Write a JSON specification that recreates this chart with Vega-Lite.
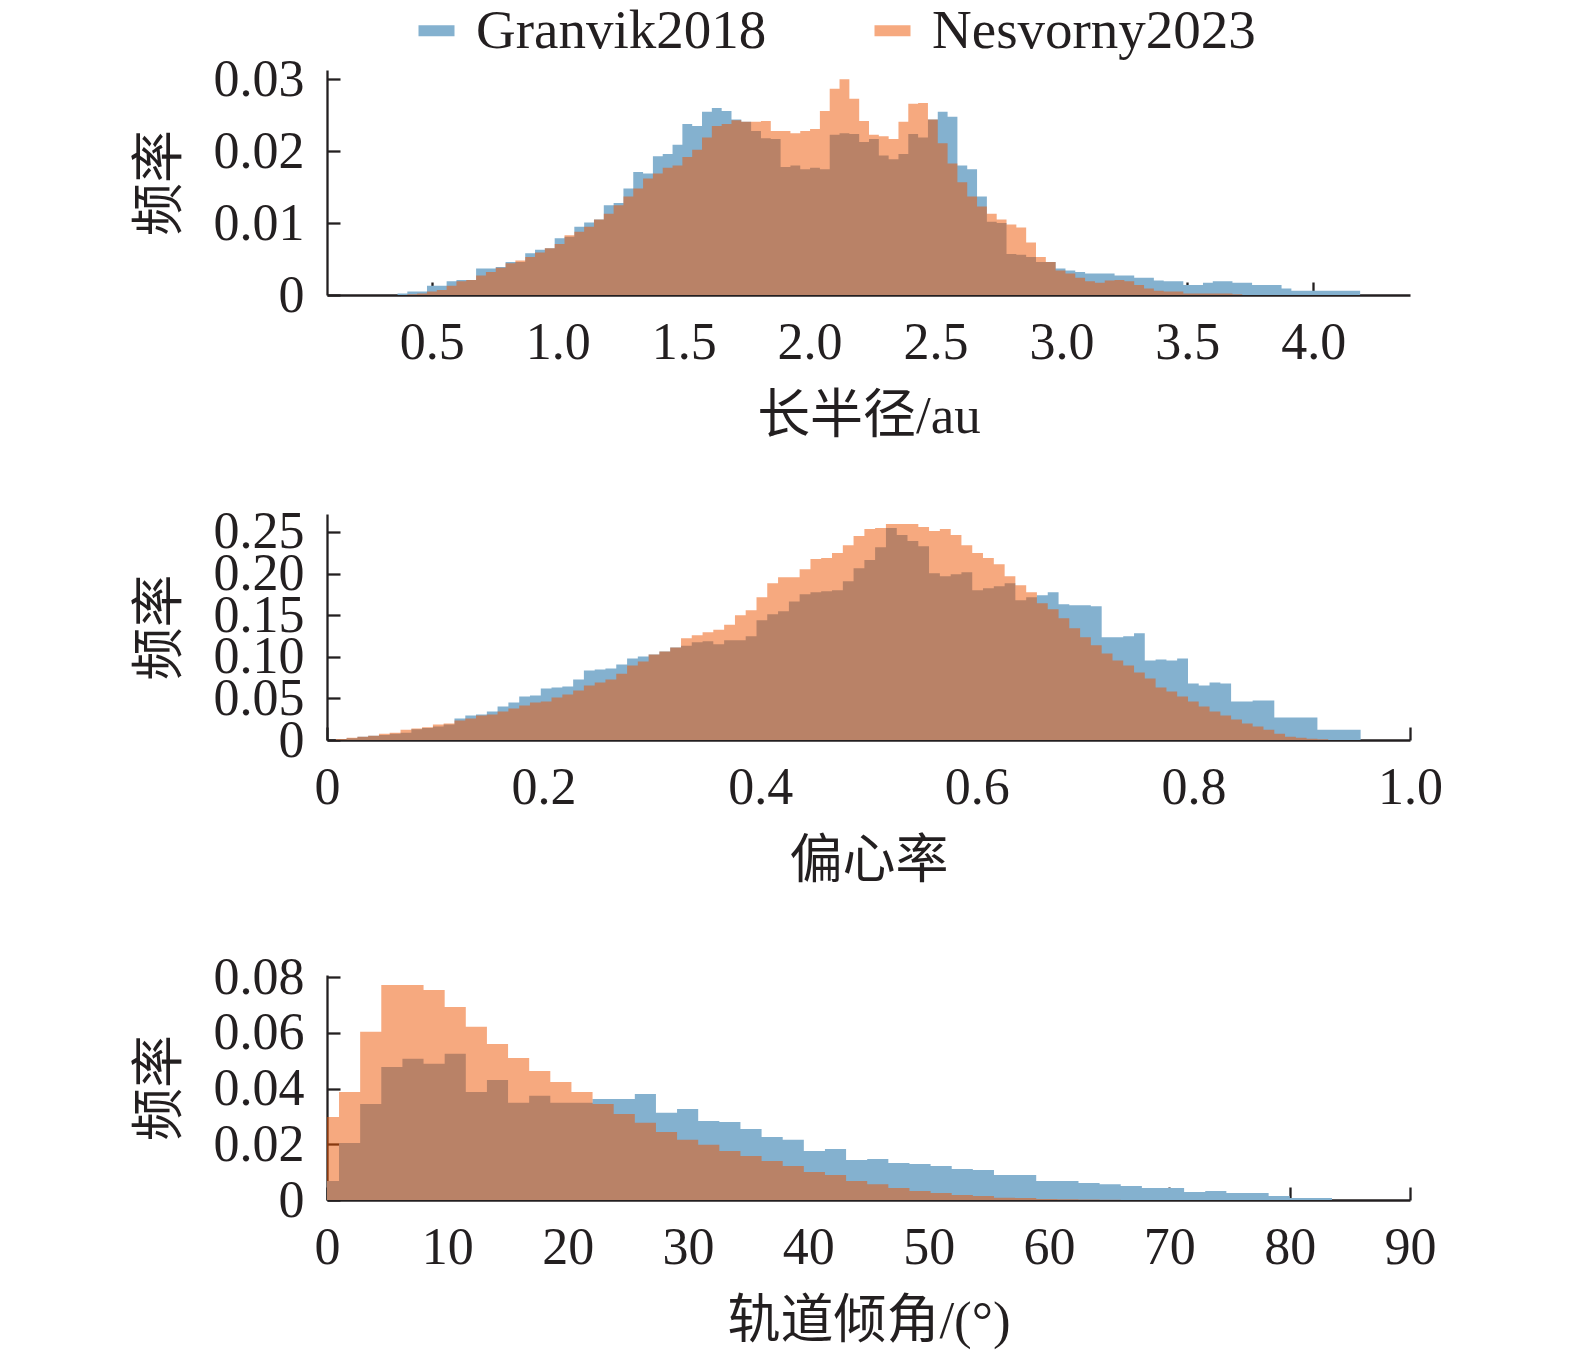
{
  "$schema": "https://vega.github.io/schema/vega-lite/v6.json",
  "background": "white",
  "padding": {"left": 134, "top": 3, "right": 5, "bottom": 5},
  "bounds": "flush",
  "spacing": 219,
  "config": {
    "font": "Liberation Serif",
    "view": {"stroke": null},
    "axis": {
      "grid": false,
      "domainColor": "#231f20",
      "domainWidth": 2.3,
      "tickColor": "#231f20",
      "tickWidth": 2.3,
      "tickSize": -13,
      "labelFont": "Liberation Serif",
      "labelFontSize": 52,
      "labelColor": "#231f20",
      "labelFlush": false,
      "labelOverlap": false,
      "labelBound": false,
      "titleFont": "Liberation Serif, Noto Sans CJK SC",
      "titleFontSize": 53,
      "titleFontWeight": "normal",
      "titleColor": "#231f20"
    },
    "axisX": {"labelPadding": 35, "titlePadding": 22},
    "axisY": {"labelPadding": 36, "titlePadding": 26}
  },
  "resolve": {"scale": {"color": "independent", "opacity": "independent"}},
  "datasets": {
    "p1": [
      {"s":"G","x":0.364,"f":0.0002},{"s":"G","x":0.403,"f":0.0005},{"s":"G","x":0.442,"f":0.0005},{"s":"G","x":0.481,"f":0.0013},
      {"s":"G","x":0.52,"f":0.0013},{"s":"G","x":0.559,"f":0.0019},{"s":"G","x":0.598,"f":0.0021},{"s":"G","x":0.637,"f":0.0021},
      {"s":"G","x":0.676,"f":0.0037},{"s":"G","x":0.715,"f":0.0037},{"s":"G","x":0.754,"f":0.0039},{"s":"G","x":0.793,"f":0.0046},
      {"s":"G","x":0.832,"f":0.0046},{"s":"G","x":0.871,"f":0.0058},{"s":"G","x":0.91,"f":0.0063},{"s":"G","x":0.949,"f":0.0065},
      {"s":"G","x":0.988,"f":0.0079},{"s":"G","x":1.027,"f":0.0081},{"s":"G","x":1.066,"f":0.0095},{"s":"G","x":1.105,"f":0.0101},
      {"s":"G","x":1.144,"f":0.0105},{"s":"G","x":1.183,"f":0.0125},{"s":"G","x":1.222,"f":0.0128},{"s":"G","x":1.261,"f":0.0148},
      {"s":"G","x":1.3,"f":0.0171},{"s":"G","x":1.339,"f":0.0169},{"s":"G","x":1.378,"f":0.0193},{"s":"G","x":1.417,"f":0.0196},
      {"s":"G","x":1.456,"f":0.0209},{"s":"G","x":1.495,"f":0.0238},{"s":"G","x":1.534,"f":0.0235},{"s":"G","x":1.573,"f":0.0255},
      {"s":"G","x":1.612,"f":0.026},{"s":"G","x":1.651,"f":0.0256},{"s":"G","x":1.69,"f":0.0244},{"s":"G","x":1.729,"f":0.0241},
      {"s":"G","x":1.768,"f":0.0228},{"s":"G","x":1.807,"f":0.0218},{"s":"G","x":1.846,"f":0.0217},{"s":"G","x":1.885,"f":0.0178},
      {"s":"G","x":1.924,"f":0.018},{"s":"G","x":1.963,"f":0.0175},{"s":"G","x":2.002,"f":0.0177},{"s":"G","x":2.041,"f":0.0175},
      {"s":"G","x":2.08,"f":0.0223},{"s":"G","x":2.119,"f":0.0225},{"s":"G","x":2.158,"f":0.0224},{"s":"G","x":2.197,"f":0.0213},
      {"s":"G","x":2.236,"f":0.0217},{"s":"G","x":2.275,"f":0.0194},{"s":"G","x":2.314,"f":0.0189},{"s":"G","x":2.353,"f":0.0196},
      {"s":"G","x":2.392,"f":0.0224},{"s":"G","x":2.431,"f":0.0219},{"s":"G","x":2.47,"f":0.0244},{"s":"G","x":2.509,"f":0.0255},
      {"s":"G","x":2.548,"f":0.0248},{"s":"G","x":2.587,"f":0.018},{"s":"G","x":2.626,"f":0.0175},{"s":"G","x":2.665,"f":0.0137},
      {"s":"G","x":2.704,"f":0.0102},{"s":"G","x":2.743,"f":0.01},{"s":"G","x":2.782,"f":0.0057},{"s":"G","x":2.821,"f":0.0056},
      {"s":"G","x":2.86,"f":0.0053},{"s":"G","x":2.899,"f":0.0046},{"s":"G","x":2.938,"f":0.0046},{"s":"G","x":2.977,"f":0.0037},
      {"s":"G","x":3.016,"f":0.0034},{"s":"G","x":3.055,"f":0.0032},{"s":"G","x":3.094,"f":0.003},{"s":"G","x":3.133,"f":0.003},
      {"s":"G","x":3.172,"f":0.003},{"s":"G","x":3.211,"f":0.0027},{"s":"G","x":3.25,"f":0.0027},{"s":"G","x":3.289,"f":0.0024},
      {"s":"G","x":3.328,"f":0.0024},{"s":"G","x":3.367,"f":0.002},{"s":"G","x":3.406,"f":0.0019},{"s":"G","x":3.445,"f":0.0019},
      {"s":"G","x":3.484,"f":0.0014},{"s":"G","x":3.523,"f":0.0014},{"s":"G","x":3.562,"f":0.0017},{"s":"G","x":3.601,"f":0.0019},
      {"s":"G","x":3.64,"f":0.0019},{"s":"G","x":3.679,"f":0.0017},{"s":"G","x":3.718,"f":0.0017},{"s":"G","x":3.757,"f":0.0014},
      {"s":"G","x":3.796,"f":0.0014},{"s":"G","x":3.835,"f":0.0014},{"s":"G","x":3.874,"f":0.0009},{"s":"G","x":3.913,"f":0.0006},
      {"s":"G","x":3.952,"f":0.0006},{"s":"G","x":3.991,"f":0.0006},{"s":"G","x":4.03,"f":0.0006},{"s":"G","x":4.069,"f":0.0006},
      {"s":"G","x":4.108,"f":0.0006},{"s":"G","x":4.147,"f":0.0006},{"s":"G","x":4.186,"f":0.0006},
      {"s":"N","x":0.403,"f":0.0001},{"s":"N","x":0.442,"f":0.0002},{"s":"N","x":0.481,"f":0.0005},{"s":"N","x":0.52,"f":0.0007},
      {"s":"N","x":0.559,"f":0.0013},{"s":"N","x":0.598,"f":0.0019},{"s":"N","x":0.637,"f":0.0021},{"s":"N","x":0.676,"f":0.0027},
      {"s":"N","x":0.715,"f":0.0032},{"s":"N","x":0.754,"f":0.0038},{"s":"N","x":0.793,"f":0.0044},{"s":"N","x":0.832,"f":0.0048},
      {"s":"N","x":0.871,"f":0.0053},{"s":"N","x":0.91,"f":0.0059},{"s":"N","x":0.949,"f":0.0065},{"s":"N","x":0.988,"f":0.0071},
      {"s":"N","x":1.027,"f":0.0083},{"s":"N","x":1.066,"f":0.0088},{"s":"N","x":1.105,"f":0.0095},{"s":"N","x":1.144,"f":0.0105},
      {"s":"N","x":1.183,"f":0.0113},{"s":"N","x":1.222,"f":0.0125},{"s":"N","x":1.261,"f":0.0137},{"s":"N","x":1.3,"f":0.0148},
      {"s":"N","x":1.339,"f":0.0162},{"s":"N","x":1.378,"f":0.0169},{"s":"N","x":1.417,"f":0.0177},{"s":"N","x":1.456,"f":0.018},
      {"s":"N","x":1.495,"f":0.0192},{"s":"N","x":1.534,"f":0.0202},{"s":"N","x":1.573,"f":0.0219},{"s":"N","x":1.612,"f":0.0235},
      {"s":"N","x":1.651,"f":0.0238},{"s":"N","x":1.69,"f":0.0243},{"s":"N","x":1.729,"f":0.0241},{"s":"N","x":1.768,"f":0.0241},
      {"s":"N","x":1.807,"f":0.0242},{"s":"N","x":1.846,"f":0.0228},{"s":"N","x":1.885,"f":0.0228},{"s":"N","x":1.924,"f":0.0225},
      {"s":"N","x":1.963,"f":0.0228},{"s":"N","x":2.002,"f":0.0231},{"s":"N","x":2.041,"f":0.0256},{"s":"N","x":2.08,"f":0.0287},
      {"s":"N","x":2.119,"f":0.03},{"s":"N","x":2.158,"f":0.0273},{"s":"N","x":2.197,"f":0.0242},{"s":"N","x":2.236,"f":0.0223},
      {"s":"N","x":2.275,"f":0.0221},{"s":"N","x":2.314,"f":0.0217},{"s":"N","x":2.353,"f":0.0241},{"s":"N","x":2.392,"f":0.0266},
      {"s":"N","x":2.431,"f":0.0267},{"s":"N","x":2.47,"f":0.0244},{"s":"N","x":2.509,"f":0.0211},{"s":"N","x":2.548,"f":0.0183},
      {"s":"N","x":2.587,"f":0.0157},{"s":"N","x":2.626,"f":0.0137},{"s":"N","x":2.665,"f":0.0123},{"s":"N","x":2.704,"f":0.0113},
      {"s":"N","x":2.743,"f":0.0105},{"s":"N","x":2.782,"f":0.0098},{"s":"N","x":2.821,"f":0.0094},{"s":"N","x":2.86,"f":0.0073},
      {"s":"N","x":2.899,"f":0.0053},{"s":"N","x":2.938,"f":0.0046},{"s":"N","x":2.977,"f":0.0034},{"s":"N","x":3.016,"f":0.003},
      {"s":"N","x":3.055,"f":0.0024},{"s":"N","x":3.094,"f":0.0019},{"s":"N","x":3.133,"f":0.0017},{"s":"N","x":3.172,"f":0.002},
      {"s":"N","x":3.211,"f":0.0021},{"s":"N","x":3.25,"f":0.0019},{"s":"N","x":3.289,"f":0.0014},{"s":"N","x":3.328,"f":0.0009},
      {"s":"N","x":3.367,"f":0.0006},{"s":"N","x":3.406,"f":0.0005},{"s":"N","x":3.445,"f":0.0005},{"s":"N","x":3.484,"f":0.0002},
      {"s":"N","x":3.523,"f":0.0002},{"s":"N","x":3.562,"f":0.0002},{"s":"N","x":3.601,"f":0.0002},{"s":"N","x":3.64,"f":0.0002},
      {"s":"N","x":3.679,"f":0.0001},{"s":"N","x":3.718,"f":0.0001}
    ],
    "p2": [
      {"s":"G","x":0.0082,"f":0.001},
      {"s":"G","x":0.0181,"f":0.002},{"s":"G","x":0.0281,"f":0.004},{"s":"G","x":0.038,"f":0.0052},{"s":"G","x":0.048,"f":0.006},
      {"s":"G","x":0.0579,"f":0.0076},{"s":"G","x":0.0679,"f":0.0088},{"s":"G","x":0.0779,"f":0.0128},{"s":"G","x":0.0878,"f":0.0145},
      {"s":"G","x":0.0978,"f":0.0161},{"s":"G","x":0.1077,"f":0.0185},{"s":"G","x":0.1177,"f":0.0257},{"s":"G","x":0.1277,"f":0.0293},
      {"s":"G","x":0.1376,"f":0.0305},{"s":"G","x":0.1476,"f":0.0341},{"s":"G","x":0.1575,"f":0.0402},{"s":"G","x":0.1675,"f":0.045},
      {"s":"G","x":0.1775,"f":0.0522},{"s":"G","x":0.1874,"f":0.0534},{"s":"G","x":0.1974,"f":0.0618},{"s":"G","x":0.2073,"f":0.063},
      {"s":"G","x":0.2173,"f":0.0643},{"s":"G","x":0.2273,"f":0.0727},{"s":"G","x":0.2372,"f":0.0835},{"s":"G","x":0.2472,"f":0.0847},
      {"s":"G","x":0.2571,"f":0.0859},{"s":"G","x":0.2671,"f":0.0908},{"s":"G","x":0.2771,"f":0.098},{"s":"G","x":0.287,"f":0.1004},
      {"s":"G","x":0.297,"f":0.1028},{"s":"G","x":0.3069,"f":0.1064},{"s":"G","x":0.3169,"f":0.1112},{"s":"G","x":0.3269,"f":0.1133},
      {"s":"G","x":0.3368,"f":0.1173},{"s":"G","x":0.3468,"f":0.1185},{"s":"G","x":0.3567,"f":0.1149},{"s":"G","x":0.3667,"f":0.1197},
      {"s":"G","x":0.3767,"f":0.1197},{"s":"G","x":0.3866,"f":0.1245},{"s":"G","x":0.3966,"f":0.1438},{"s":"G","x":0.4065,"f":0.151},
      {"s":"G","x":0.4165,"f":0.1546},{"s":"G","x":0.4265,"f":0.1665},{"s":"G","x":0.4364,"f":0.1751},{"s":"G","x":0.4464,"f":0.1775},
      {"s":"G","x":0.4563,"f":0.1787},{"s":"G","x":0.4663,"f":0.1799},{"s":"G","x":0.4763,"f":0.1908},{"s":"G","x":0.4862,"f":0.2064},
      {"s":"G","x":0.4962,"f":0.2161},{"s":"G","x":0.5061,"f":0.2317},{"s":"G","x":0.5161,"f":0.2546},{"s":"G","x":0.5261,"f":0.2462},
      {"s":"G","x":0.536,"f":0.239},{"s":"G","x":0.546,"f":0.2329},{"s":"G","x":0.5559,"f":0.2004},{"s":"G","x":0.5659,"f":0.1968},
      {"s":"G","x":0.5759,"f":0.1992},{"s":"G","x":0.5858,"f":0.2016},{"s":"G","x":0.5958,"f":0.1799},{"s":"G","x":0.6057,"f":0.1823},
      {"s":"G","x":0.6157,"f":0.1847},{"s":"G","x":0.6257,"f":0.1884},{"s":"G","x":0.6356,"f":0.1679},{"s":"G","x":0.6456,"f":0.1715},
      {"s":"G","x":0.6555,"f":0.1739},{"s":"G","x":0.6655,"f":0.1775},{"s":"G","x":0.6755,"f":0.1631},{"s":"G","x":0.6854,"f":0.1618},
      {"s":"G","x":0.6954,"f":0.1618},{"s":"G","x":0.7053,"f":0.1606},{"s":"G","x":0.7153,"f":0.1233},{"s":"G","x":0.7253,"f":0.1233},
      {"s":"G","x":0.7352,"f":0.1245},{"s":"G","x":0.7452,"f":0.1281},{"s":"G","x":0.7551,"f":0.0956},{"s":"G","x":0.7651,"f":0.0968},
      {"s":"G","x":0.7751,"f":0.0956},{"s":"G","x":0.785,"f":0.098},{"s":"G","x":0.795,"f":0.0679},{"s":"G","x":0.8049,"f":0.0655},
      {"s":"G","x":0.8149,"f":0.0691},{"s":"G","x":0.8249,"f":0.0679},{"s":"G","x":0.8348,"f":0.0462},{"s":"G","x":0.8448,"f":0.0462},
      {"s":"G","x":0.8547,"f":0.0474},{"s":"G","x":0.8647,"f":0.0474},{"s":"G","x":0.8747,"f":0.0269},{"s":"G","x":0.8846,"f":0.0269},
      {"s":"G","x":0.8946,"f":0.0269},{"s":"G","x":0.9045,"f":0.0269},{"s":"G","x":0.9145,"f":0.0124},{"s":"G","x":0.9245,"f":0.0124},
      {"s":"G","x":0.9344,"f":0.0124},{"s":"G","x":0.9444,"f":0.0124},{"s":"G","x":0.9544,"f":0.0124},
      {"s":"N","x":0.0082,"f":0.0012},
      {"s":"N","x":0.0181,"f":0.0028},{"s":"N","x":0.0281,"f":0.004},{"s":"N","x":0.038,"f":0.0052},{"s":"N","x":0.048,"f":0.0076},
      {"s":"N","x":0.0579,"f":0.0088},{"s":"N","x":0.0679,"f":0.0124},{"s":"N","x":0.0779,"f":0.0137},{"s":"N","x":0.0878,"f":0.0153},
      {"s":"N","x":0.0978,"f":0.0185},{"s":"N","x":0.1077,"f":0.0197},{"s":"N","x":0.1177,"f":0.0233},{"s":"N","x":0.1277,"f":0.0257},
      {"s":"N","x":0.1376,"f":0.0293},{"s":"N","x":0.1476,"f":0.0305},{"s":"N","x":0.1575,"f":0.0341},{"s":"N","x":0.1675,"f":0.0378},
      {"s":"N","x":0.1775,"f":0.0414},{"s":"N","x":0.1874,"f":0.045},{"s":"N","x":0.1974,"f":0.0462},{"s":"N","x":0.2073,"f":0.051},
      {"s":"N","x":0.2173,"f":0.0546},{"s":"N","x":0.2273,"f":0.0594},{"s":"N","x":0.2372,"f":0.0655},{"s":"N","x":0.2472,"f":0.0691},
      {"s":"N","x":0.2571,"f":0.0727},{"s":"N","x":0.2671,"f":0.0795},{"s":"N","x":0.2771,"f":0.0896},{"s":"N","x":0.287,"f":0.0944},
      {"s":"N","x":0.297,"f":0.1028},{"s":"N","x":0.3069,"f":0.1064},{"s":"N","x":0.3169,"f":0.1112},{"s":"N","x":0.3269,"f":0.1221},
      {"s":"N","x":0.3368,"f":0.1257},{"s":"N","x":0.3468,"f":0.1293},{"s":"N","x":0.3567,"f":0.1325},{"s":"N","x":0.3667,"f":0.1385},
      {"s":"N","x":0.3767,"f":0.1498},{"s":"N","x":0.3866,"f":0.1558},{"s":"N","x":0.3966,"f":0.1715},{"s":"N","x":0.4065,"f":0.1884},
      {"s":"N","x":0.4165,"f":0.1956},{"s":"N","x":0.4265,"f":0.1956},{"s":"N","x":0.4364,"f":0.2052},{"s":"N","x":0.4464,"f":0.2173},
      {"s":"N","x":0.4563,"f":0.2185},{"s":"N","x":0.4663,"f":0.2245},{"s":"N","x":0.4763,"f":0.2341},{"s":"N","x":0.4862,"f":0.245},
      {"s":"N","x":0.4962,"f":0.2534},{"s":"N","x":0.5061,"f":0.2546},{"s":"N","x":0.5161,"f":0.2594},{"s":"N","x":0.5261,"f":0.2594},
      {"s":"N","x":0.536,"f":0.2594},{"s":"N","x":0.546,"f":0.2558},{"s":"N","x":0.5559,"f":0.251},{"s":"N","x":0.5659,"f":0.2534},
      {"s":"N","x":0.5759,"f":0.2462},{"s":"N","x":0.5858,"f":0.2341},{"s":"N","x":0.5958,"f":0.2245},{"s":"N","x":0.6057,"f":0.2185},
      {"s":"N","x":0.6157,"f":0.2112},{"s":"N","x":0.6257,"f":0.1968},{"s":"N","x":0.6356,"f":0.1859},{"s":"N","x":0.6456,"f":0.1775},
      {"s":"N","x":0.6555,"f":0.1643},{"s":"N","x":0.6655,"f":0.157},{"s":"N","x":0.6755,"f":0.1462},{"s":"N","x":0.6854,"f":0.1341},
      {"s":"N","x":0.6954,"f":0.1233},{"s":"N","x":0.7053,"f":0.1137},{"s":"N","x":0.7153,"f":0.104},{"s":"N","x":0.7253,"f":0.0956},
      {"s":"N","x":0.7352,"f":0.0896},{"s":"N","x":0.7452,"f":0.0811},{"s":"N","x":0.7551,"f":0.0739},{"s":"N","x":0.7651,"f":0.0631},
      {"s":"N","x":0.7751,"f":0.0582},{"s":"N","x":0.785,"f":0.0522},{"s":"N","x":0.795,"f":0.0462},{"s":"N","x":0.8049,"f":0.0402},
      {"s":"N","x":0.8149,"f":0.0341},{"s":"N","x":0.8249,"f":0.0293},{"s":"N","x":0.8348,"f":0.0245},{"s":"N","x":0.8448,"f":0.0197},
      {"s":"N","x":0.8547,"f":0.0161},{"s":"N","x":0.8647,"f":0.0124},{"s":"N","x":0.8747,"f":0.0076},{"s":"N","x":0.8846,"f":0.004},
      {"s":"N","x":0.8946,"f":0.0028},{"s":"N","x":0.9045,"f":0.0016},{"s":"N","x":0.9145,"f":0.0008},{"s":"N","x":0.9245,"f":0.0008}
    ],
    "p3": [
      {"s":"G","x":-0.756,"f":0.0068},{"s":"G","x":1.0,"f":0.0205},{"s":"G","x":2.756,"f":0.0345},{"s":"G","x":4.511,"f":0.0478},
      {"s":"G","x":6.267,"f":0.0507},{"s":"G","x":8.023,"f":0.0489},{"s":"G","x":9.779,"f":0.0525},{"s":"G","x":11.534,"f":0.0388},
      {"s":"G","x":13.29,"f":0.0431},{"s":"G","x":15.046,"f":0.0349},{"s":"G","x":16.801,"f":0.0374},{"s":"G","x":18.557,"f":0.0349},
      {"s":"G","x":20.313,"f":0.0349},{"s":"G","x":22.068,"f":0.0363},{"s":"G","x":23.824,"f":0.0363},{"s":"G","x":25.58,"f":0.0381},
      {"s":"G","x":27.336,"f":0.0313},{"s":"G","x":29.091,"f":0.0327},{"s":"G","x":30.847,"f":0.0284},{"s":"G","x":32.603,"f":0.028},
      {"s":"G","x":34.358,"f":0.0255},{"s":"G","x":36.114,"f":0.0226},{"s":"G","x":37.87,"f":0.0216},{"s":"G","x":39.625,"f":0.0176},
      {"s":"G","x":41.381,"f":0.0183},{"s":"G","x":43.137,"f":0.0144},{"s":"G","x":44.893,"f":0.0147},{"s":"G","x":46.648,"f":0.0133},
      {"s":"G","x":48.404,"f":0.0129},{"s":"G","x":50.16,"f":0.0122},{"s":"G","x":51.915,"f":0.0111},{"s":"G","x":53.671,"f":0.0108},
      {"s":"G","x":55.427,"f":0.009},{"s":"G","x":57.182,"f":0.009},{"s":"G","x":58.938,"f":0.0068},{"s":"G","x":60.694,"f":0.0068},
      {"s":"G","x":62.45,"f":0.0061},{"s":"G","x":64.205,"f":0.0057},{"s":"G","x":65.961,"f":0.005},{"s":"G","x":67.717,"f":0.0043},
      {"s":"G","x":69.472,"f":0.0043},{"s":"G","x":71.228,"f":0.0029},{"s":"G","x":72.984,"f":0.0032},{"s":"G","x":74.739,"f":0.0025},
      {"s":"G","x":76.495,"f":0.0025},{"s":"G","x":78.251,"f":0.0014},{"s":"G","x":80.007,"f":0.0007},{"s":"G","x":81.762,"f":0.0007},
      {"s":"G","x":83.518,"f":0.0007},
      {"s":"N","x":-0.756,"f":0.0298},{"s":"N","x":1.0,"f":0.0388},{"s":"N","x":2.756,"f":0.0604},{"s":"N","x":4.511,"f":0.0772},
      {"s":"N","x":6.267,"f":0.0772},{"s":"N","x":8.023,"f":0.0754},{"s":"N","x":9.779,"f":0.0693},{"s":"N","x":11.534,"f":0.0622},
      {"s":"N","x":13.29,"f":0.056},{"s":"N","x":15.046,"f":0.051},{"s":"N","x":16.801,"f":0.0463},{"s":"N","x":18.557,"f":0.0424},
      {"s":"N","x":20.313,"f":0.0388},{"s":"N","x":22.068,"f":0.0345},{"s":"N","x":23.824,"f":0.0309},{"s":"N","x":25.58,"f":0.0277},
      {"s":"N","x":27.336,"f":0.0244},{"s":"N","x":29.091,"f":0.0216},{"s":"N","x":30.847,"f":0.0198},{"s":"N","x":32.603,"f":0.0176},
      {"s":"N","x":34.358,"f":0.0158},{"s":"N","x":36.114,"f":0.014},{"s":"N","x":37.87,"f":0.0122},{"s":"N","x":39.625,"f":0.0101},
      {"s":"N","x":41.381,"f":0.009},{"s":"N","x":43.137,"f":0.0068},{"s":"N","x":44.893,"f":0.0057},{"s":"N","x":46.648,"f":0.0043},
      {"s":"N","x":48.404,"f":0.0032},{"s":"N","x":50.16,"f":0.0025},{"s":"N","x":51.915,"f":0.0018},{"s":"N","x":53.671,"f":0.0014},
      {"s":"N","x":55.427,"f":0.0008},{"s":"N","x":57.182,"f":0.0007},{"s":"N","x":58.938,"f":0.0004},{"s":"N","x":60.694,"f":0.0003},
      {"s":"N","x":62.45,"f":0.0002},{"s":"N","x":64.205,"f":0.0001},{"s":"N","x":65.961,"f":0.0001}
    ]
  },
  "vconcat": [
    {
      "width": 1083,
      "height": 225,
      "data": {"name": "p1"},
      "mark": {"type": "area", "interpolate": "step-after"},
      "encoding": {
        "x": {
          "field": "x", "type": "quantitative",
          "scale": {"domain": [0.084, 4.384], "nice": false, "zero": false},
          "axis": {"title": "长半径/au", "values": [0.5, 1, 1.5, 2, 2.5, 3, 3.5, 4], "format": ".1f"}
        },
        "y": {
          "field": "f", "type": "quantitative", "stack": null,
          "scale": {"domain": [0, 0.0313], "nice": false},
          "axis": {"title": "频率", "values": [0, 0.01, 0.02, 0.03], "labelExpr": "datum.value == 0 ? '0' : format(datum.value, '.2f')"}
        },
        "color": {
          "field": "s", "type": "nominal",
          "scale": {"domain": ["G", "N"], "range": ["#84b1cf", "#ed5300"]},
          "legend": {
            "orient": "none", "legendX": 82, "legendY": -67,
            "direction": "horizontal", "title": null,
            "symbolType": "M-1,-0.3H1V0.3H-1Z", "symbolSize": 1296, "symbolStrokeWidth": 0,
            "labelFont": "Liberation Serif", "labelFontSize": 55, "labelColor": "#231f20",
            "labelOffset": 12, "columnPadding": 98, "labelLimit": 600,
            "labelExpr": "datum.label == 'G' ? 'Granvik2018' : 'Nesvorny2023'",
            "encode": {"symbols": {"update": {"opacity": {"signal": "datum.value == 'N' ? 0.5 : 1"}}}}
          }
        },
        "opacity": {
          "field": "s", "type": "nominal",
          "scale": {"domain": ["G", "N"], "range": [1, 0.5]},
          "legend": null
        }
      }
    },
    {
      "bounds": "flush",
      "spacing": 235,
      "vconcat": [
        {
          "width": 1083,
          "height": 226,
          "data": {"name": "p2"},
          "mark": {"type": "area", "interpolate": "step-after"},
          "encoding": {
            "x": {
              "field": "x", "type": "quantitative",
              "scale": {"domain": [0, 1], "nice": false, "zero": false},
              "axis": {"title": "偏心率", "values": [0, 0.2, 0.4, 0.6, 0.8, 1], "labelExpr": "datum.value == 0 ? '0' : format(datum.value, '.1f')"}
            },
            "y": {
              "field": "f", "type": "quantitative", "stack": null,
              "scale": {"domain": [0, 0.2715], "nice": false},
              "axis": {"title": "频率", "values": [0, 0.05, 0.1, 0.15, 0.2, 0.25], "labelExpr": "datum.value == 0 ? '0' : format(datum.value, '.2f')"}
            },
            "color": {
              "field": "s", "type": "nominal",
              "scale": {"domain": ["G", "N"], "range": ["#84b1cf", "#ed5300"]},
              "legend": null
            },
            "opacity": {
              "field": "s", "type": "nominal",
              "scale": {"domain": ["G", "N"], "range": [1, 0.5]},
              "legend": null
            }
          }
        },
        {
          "width": 1083,
          "height": 225,
          "data": {"name": "p3"},
          "mark": {"type": "area", "interpolate": "step-after", "clip": true},
          "encoding": {
            "x": {
              "field": "x", "type": "quantitative",
              "scale": {"domain": [0, 90], "nice": false, "zero": false},
              "axis": {"title": "轨道倾角/(°)", "values": [0, 10, 20, 30, 40, 50, 60, 70, 80, 90], "format": "d"}
            },
            "y": {
              "field": "f", "type": "quantitative", "stack": null,
              "scale": {"domain": [0, 0.0808], "nice": false},
              "axis": {"title": "频率", "values": [0, 0.02, 0.04, 0.06, 0.08], "labelExpr": "datum.value == 0 ? '0' : format(datum.value, '.2f')"}
            },
            "color": {
              "field": "s", "type": "nominal",
              "scale": {"domain": ["G", "N"], "range": ["#84b1cf", "#ed5300"]},
              "legend": null
            },
            "opacity": {
              "field": "s", "type": "nominal",
              "scale": {"domain": ["G", "N"], "range": [1, 0.5]},
              "legend": null
            }
          }
        }
      ]
    }
  ]
}
